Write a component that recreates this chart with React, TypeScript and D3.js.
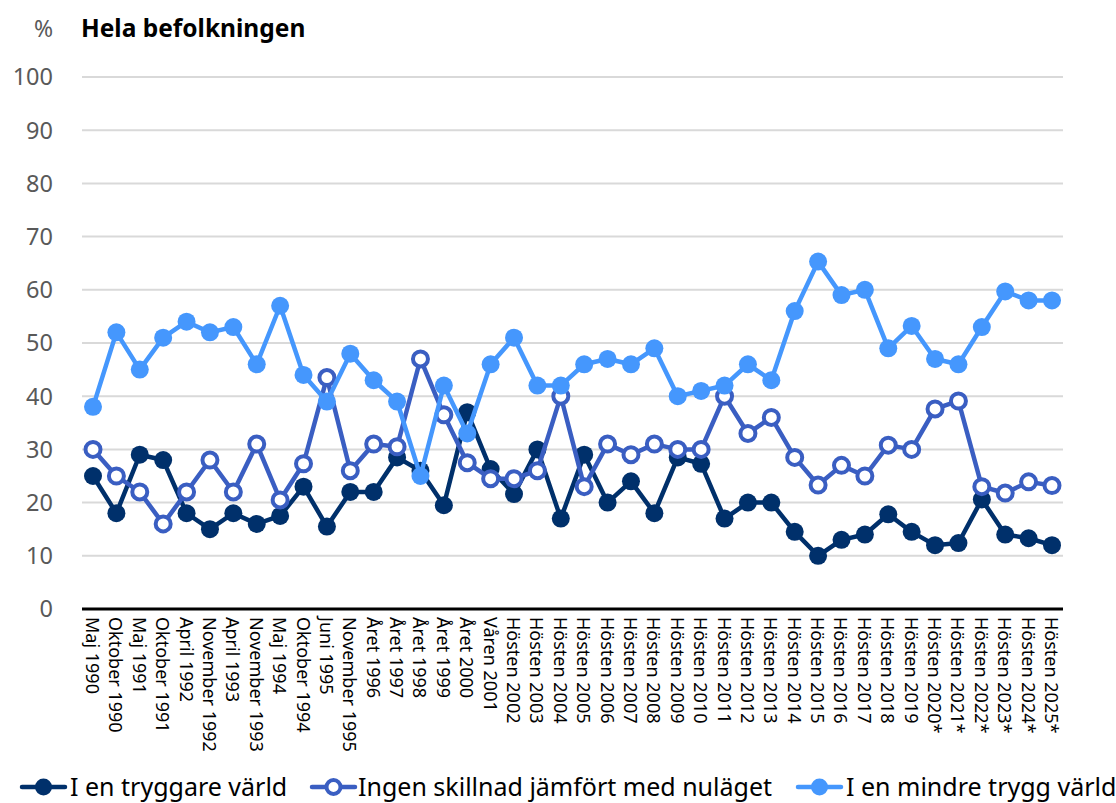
import React from "react";
import * as d3 from "d3";

const categories = [
  "Maj 1990", "Oktober 1990", "Maj 1991", "Oktober 1991", "April 1992", "November 1992",
  "April 1993", "November 1993", "Maj 1994", "Oktober 1994", "Juni 1995", "November 1995",
  "Året 1996", "Året 1997", "Året 1998", "Året 1999", "Året 2000", "Våren 2001",
  "Hösten 2002", "Hösten 2003", "Hösten 2004", "Hösten 2005", "Hösten 2006", "Hösten 2007",
  "Hösten 2008", "Hösten 2009", "Hösten 2010", "Hösten 2011", "Hösten 2012", "Hösten 2013",
  "Hösten 2014", "Hösten 2015", "Hösten 2016", "Hösten 2017", "Hösten 2018", "Hösten 2019",
  "Hösten 2020*", "Hösten 2021*", "Hösten 2022*", "Hösten 2023*", "Hösten 2024*", "Hösten 2025*",
];

const tryggare = [
  25, 18, 29, 28, 18, 15, 18, 16, 17.5, 23, 15.5, 22, 22, 28.5, 26, 19.5, 37, 26.3, 21.6, 30,
  17, 29, 20, 24, 18, 28.5, 27.3, 17, 20, 20, 14.5, 10, 13, 14, 17.8, 14.5, 12, 12.4, 20.6, 14, 13.3, 12,
];

const ingenSkillnad = [
  30, 25, 22, 16, 22, 28, 22, 31, 20.5, 27.3, 43.5, 26, 31, 30.5, 47, 36.5, 27.5, 24.5, 24.5, 26,
  40, 23, 31, 29, 31, 30, 30, 40, 33, 36, 28.5, 23.3, 27, 25, 30.8, 30, 37.6, 39.1, 23, 21.8, 23.9, 23.2,
];

const mindreTrygg = [
  38, 52, 45, 51, 54, 52, 53, 46, 57, 44, 39, 48, 43, 39, 25, 42, 33, 46, 51, 42,
  42, 46, 47, 46, 49, 40, 41, 42, 46, 43, 56, 65.3, 59, 60, 49, 53.2, 47, 46, 53, 59.7, 58, 58,
];

const yTicks = [0, 10, 20, 30, 40, 50, 60, 70, 80, 90, 100];

const seriesNames = [
  "I en tryggare värld",
  "Ingen skillnad jämfört med nuläget",
  "I en mindre trygg värld",
];

const colors = ["#00306b", "#3a5ec2", "#4597fd"];

const FONT = "'Noto Sans', 'Open Sans', sans-serif";

export default function App() {
  const width = 1116;
  const height = 803;
  const plotLeft = 82;
  const plotRight = 1063;
  const yTop = 77;
  const yBottom = 609;

  const x = d3
    .scalePoint<string>()
    .domain(categories)
    .range([93, 1052]);
  const y = d3.scaleLinear().domain([0, 100]).range([yBottom, yTop]);

  const data = [tryggare, ingenSkillnad, mindreTrygg];
  const line = d3
    .line<number>()
    .x((_, i) => x(categories[i]) as number)
    .y((d) => y(d));

  const legendItems = [
    { lx: 22, tx: 70 },
    { lx: 312, tx: 358 },
    { lx: 798, tx: 846 },
  ];

  return (
    <svg
      width={width}
      height={height}
      style={{ position: "absolute", left: 0, top: 0, background: "#fff" }}
      fontFamily={FONT}
    >
      <text x={53} y={37} fontSize={23} fill="#595959" textAnchor="end">%</text>
      <text x={81} y={37} fontSize={24.5} fontWeight="bold" fill="#000">Hela befolkningen</text>

      {yTicks.map((t) => (
        <g key={t}>
          {t > 0 && (
            <line x1={plotLeft} x2={plotRight} y1={y(t)} y2={y(t)} stroke="#d9d9d9" strokeWidth={2} />
          )}
          <text x={53} y={y(t)} dy="0.36em" fontSize={23.5} fill="#595959" textAnchor="end">
            {t}
          </text>
        </g>
      ))}

      <line x1={plotLeft} x2={plotRight} y1={yBottom} y2={yBottom} stroke="#000" strokeWidth={3} />

      {categories.map((c) => (
        <text
          key={c}
          transform={`translate(${x(c)},${617}) rotate(90)`}
          fontSize={18}
          fill="#000"
          dominantBaseline="central"
        >
          {c}
        </text>
      ))}

      {data.map((series, si) => (
        <g key={si}>
          <path d={line(series) || ""} fill="none" stroke={colors[si]} strokeWidth={4.5} strokeLinejoin="round" />
          {series.map((v, i) =>
            si === 1 ? (
              <circle key={i} cx={x(categories[i])} cy={y(v)} r={7.5} fill="#fff" stroke={colors[si]} strokeWidth={4} />
            ) : (
              <circle key={i} cx={x(categories[i])} cy={y(v)} r={9} fill={colors[si]} />
            )
          )}
        </g>
      ))}

      {seriesNames.map((name, si) => {
        const { lx, tx } = legendItems[si];
        const cy = 787;
        return (
          <g key={name}>
            <line x1={lx} x2={lx + 43} y1={cy} y2={cy} stroke={colors[si]} strokeWidth={4.5} strokeLinecap="round" />
            {si === 1 ? (
              <circle cx={lx + 21.5} cy={cy} r={7} fill="#fff" stroke={colors[si]} strokeWidth={4} />
            ) : (
              <circle cx={lx + 21.5} cy={cy} r={8.5} fill={colors[si]} />
            )}
            <text x={tx} y={cy} dy="0.35em" fontSize={25} fill="#000">
              {name}
            </text>
          </g>
        );
      })}
    </svg>
  );
}
